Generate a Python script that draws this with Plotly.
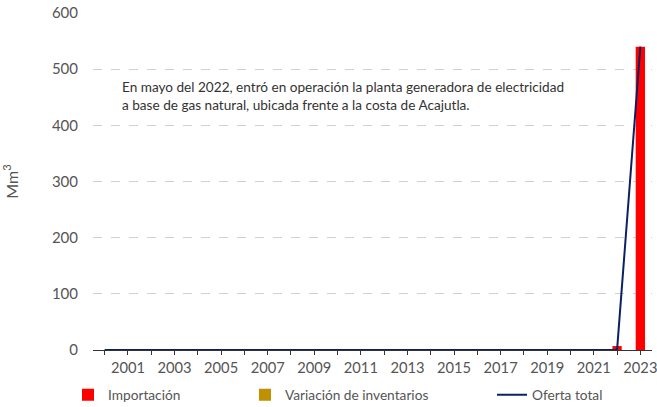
import plotly.graph_objects as go

years = [str(y) for y in range(2000, 2024)]
importacion = [0]*22 + [7, 540]
variacion_inventarios = [0]*22 + [-7, 0]
oferta_total = [0]*22 + [0, 540]
tick_text = [y if int(y) % 2 == 1 else "" for y in years]

FONT = "Lato"
GRAY = "#555555"

fig = go.Figure()
fig.add_trace(go.Bar(x=years, y=importacion, name="Importación", legend="legend",
                     marker=dict(color="#FF0000", line=dict(width=0)), width=0.4))
fig.add_trace(go.Bar(x=years, y=variacion_inventarios, name="Variación de inventarios",
                     legend="legend2",
                     marker=dict(color="#BF9000", line=dict(width=0)), width=0.4))
fig.add_trace(go.Scatter(x=years, y=oferta_total, name="Oferta total", mode="lines",
                         legend="legend3", line=dict(color="#0B2160", width=2)))

leg_common = dict(orientation="h", xref="container", yref="container",
                  xanchor="left", y=0.03, yanchor="middle",
                  font=dict(size=13.7, color=GRAY), itemwidth=30,
                  bgcolor="rgba(0,0,0,0)")

fig.update_layout(
    width=657, height=407,
    margin=dict(l=93, r=5, t=13, b=57, autoexpand=False),
    paper_bgcolor="white", plot_bgcolor="white",
    barmode="relative",
    font=dict(family=FONT, size=14, color=GRAY),
    showlegend=True,
    legend=dict(x=0.1035, **leg_common),
    legend2=dict(x=0.3729, **leg_common),
    legend3=dict(x=0.7489, **leg_common),
    annotations=[dict(
        text="En mayo del 2022, entró en operación la planta generadora de electricidad<br>a base de gas natural, ubicada frente a la costa de Acajutla.",
        xref="paper", yref="paper", x=0.0485, y=0.81, xanchor="left", yanchor="top",
        align="left", showarrow=False, font=dict(size=13.6, color="#333333"))],
)
fig.update_xaxes(type="category", range=[-0.5, 23.5], tickmode="array",
                 tickvals=years, ticktext=tick_text, ticks="outside", ticklen=4,
                 tickcolor="#333333", showline=True, linecolor="#333333", linewidth=1,
                 showgrid=False, layer="below traces", automargin=False,
                 tickfont=dict(size=14.7, color=GRAY))
fig.update_yaxes(range=[0, 600], tickvals=[0, 100, 200, 300, 400, 500, 600],
                 showgrid=True, gridcolor="#D0D0D0", griddash="dash", gridwidth=1,
                 zeroline=False, showline=False, ticks="", ticklabelstandoff=14,
                 automargin=False, tickfont=dict(size=15, color=GRAY),
                 title=dict(text="Mm<sup>3</sup>", font=dict(size=16, color=GRAY), standoff=30))

fig.write_html("out.html", config={"displayModeBar": False},
               post_script="document.body.style.margin='0';")
